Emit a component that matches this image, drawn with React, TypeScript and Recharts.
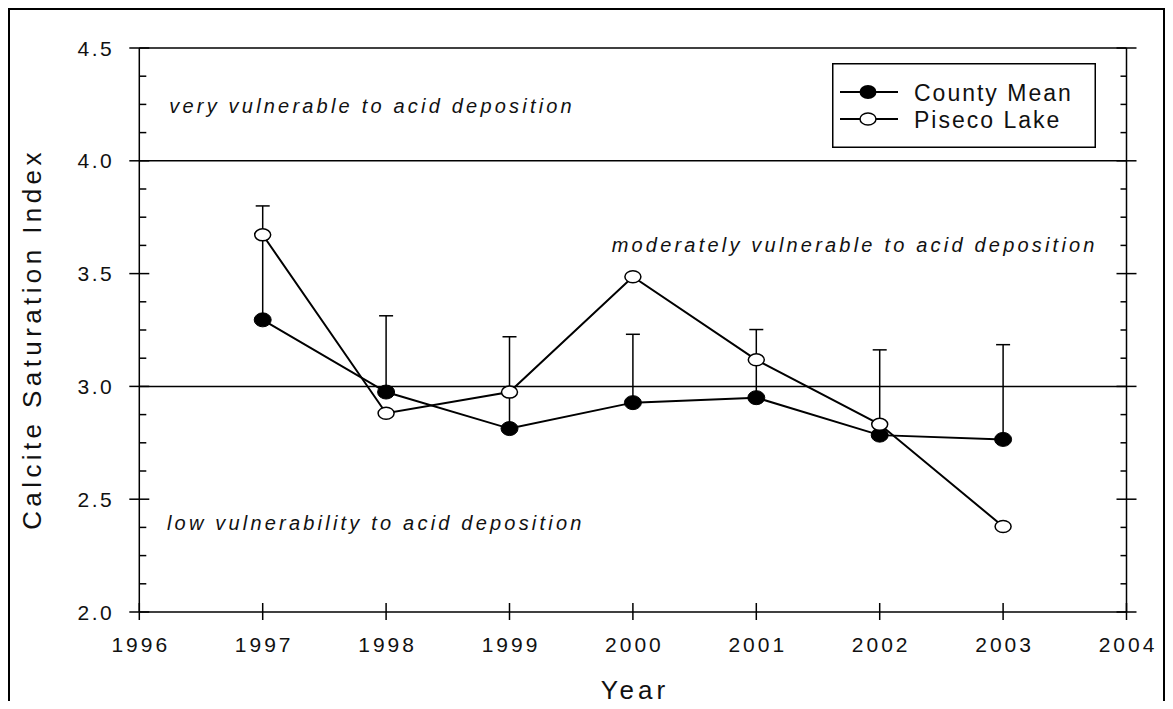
import React from "react";
import {
  LineChart,
  Line,
  XAxis,
  YAxis,
  ErrorBar,
  ReferenceLine,
  ReferenceDot,
  Legend,
} from "recharts";

const FONT = "'Liberation Sans', Arial, Helvetica, sans-serif";

const years = [1997, 1998, 1999, 2000, 2001, 2002, 2003];
const countyMean = [3.295, 2.975, 2.813, 2.928, 2.95, 2.784, 2.765];
const pisecoLake = [3.672, 2.881, 2.975, 3.486, 3.118, 2.832, 2.379];
const countyUpperError = [0.505, 0.338, 0.407, 0.303, 0.302, 0.378, 0.42];

const xTicks = [1996, 1997, 1998, 1999, 2000, 2001, 2002, 2003, 2004];
const yMajorTicks = [2.0, 2.5, 3.0, 3.5, 4.0, 4.5];
const yMinorTicks = [
  2.125, 2.25, 2.375, 2.625, 2.75, 2.875, 3.125, 3.25, 3.375, 3.625, 3.75,
  3.875, 4.125, 4.25, 4.375,
];
const thresholdLines = [3.0, 4.0];
const seriesNames = ["County Mean", "Piseco Lake"];
const zoneNotes = [
  "very vulnerable to acid deposition",
  "moderately vulnerable to acid deposition",
  "low vulnerability to acid deposition",
];

const rows = years.map((year, i) => ({
  year,
  county: countyMean[i],
  piseco: pisecoLake[i],
  err: [0, countyUpperError[i]],
}));
const yTicks = [...yMajorTicks, ...yMinorTicks].sort((a, b) => a - b);

const isMajor = (v: number) => yMajorTicks.some((m) => Math.abs(m - v) < 1e-6);

function LeftTick({ x, y, payload }: any) {
  const major = isMajor(payload.value);
  return (
    <g>
      <line
        x1={major ? x - 10 : x}
        x2={major ? x + 10 : x + 7}
        y1={y}
        y2={y}
        stroke="#000"
        strokeWidth={1.5}
      />
      {major && (
        <text
          x={x - 25}
          y={y}
          dy="0.36em"
          textAnchor="end"
          fontSize={21}
          letterSpacing={2.5}
          fill="#111"
          fontFamily={FONT}
        >
          {payload.value.toFixed(1)}
        </text>
      )}
    </g>
  );
}

function RightTick({ x, y, payload }: any) {
  const major = isMajor(payload.value);
  return (
    <line
      x1={major ? x - 10 : x - 6}
      x2={major ? x + 10 : x}
      y1={y}
      y2={y}
      stroke="#000"
      strokeWidth={1.5}
    />
  );
}

function BottomTick({ x, y, payload }: any) {
  return (
    <g>
      <line x1={x} x2={x} y1={y - 9} y2={y + 8} stroke="#000" strokeWidth={1.5} />
      <text
        x={x + 1.5}
        y={y + 40}
        textAnchor="middle"
        fontSize={21}
        letterSpacing={3}
        fill="#111"
        fontFamily={FONT}
      >
        {payload.value}
      </text>
    </g>
  );
}

function TopTick({ x, y }: any) {
  return <line x1={x} x2={x} y1={y - 9} y2={y + 8} stroke="#000" strokeWidth={1.5} />;
}

function FilledDot(p: any) {
  if (p.cx == null || p.cy == null) return <g key={`f-${p.index}`} />;
  return (
    <ellipse key={`f-${p.index}`} cx={p.cx} cy={p.cy} rx={8.5} ry={7} fill="#000" stroke="#000" strokeWidth={1} />
  );
}

function OpenDot(p: any) {
  if (p.cx == null || p.cy == null) return <g key={`o-${p.index}`} />;
  return (
    <ellipse key={`o-${p.index}`} cx={p.cx} cy={p.cy} rx={8} ry={6} fill="#fff" stroke="#000" strokeWidth={1.5} />
  );
}

function LegendBox() {
  const w = 264;
  const h = 85;
  return (
    <svg width={w} height={h} style={{ display: "block" }}>
      <rect x={0.75} y={0.75} width={w - 1.5} height={h - 1.5} fill="#fff" stroke="#000" strokeWidth={1.5} />
      {seriesNames.map((name, i) => {
        const cy = 29 + i * 27;
        return (
          <g key={name}>
            <line x1={8} x2={66} y1={cy} y2={cy} stroke="#000" strokeWidth={2} />
            {i === 0 ? (
              <ellipse cx={36} cy={cy} rx={8.5} ry={7} fill="#000" />
            ) : (
              <ellipse cx={36} cy={cy} rx={8} ry={6} fill="#fff" stroke="#000" strokeWidth={1.5} />
            )}
            <text x={82} y={cy + 8.5} fontSize={23} letterSpacing={2} fill="#111" fontFamily={FONT}>
              {name}
            </text>
          </g>
        );
      })}
    </svg>
  );
}

const noteLabel = (text: string) => (props: any) => {
  const vb = props.viewBox || {};
  return (
    <text
      x={vb.x}
      y={vb.y}
      fontSize={20}
      fontStyle="italic"
      letterSpacing={3.2}
      fill="#111"
      fontFamily={FONT}
    >
      {text}
    </text>
  );
};

function YTitle({ viewBox }: any) {
  const cx = 32;
  const cy = viewBox.y + viewBox.height / 2 + 9;
  return (
    <text
      x={cx}
      y={cy}
      transform={`rotate(-90, ${cx}, ${cy})`}
      textAnchor="middle"
      dominantBaseline="central"
      fontSize={26}
      letterSpacing={4.4}
      fill="#111"
      fontFamily={FONT}
    >
      Calcite Saturation Index
    </text>
  );
}

function XTitle({ viewBox }: any) {
  const cx = viewBox.x + viewBox.width / 2 + 2;
  return (
    <text x={cx} y={699} textAnchor="middle" fontSize={26} letterSpacing={4} fill="#111" fontFamily={FONT}>
      Year
    </text>
  );
}

export default function App() {
  return (
    <div style={{ position: "relative", width: 1173, height: 709, margin: -8, background: "#fff", overflow: "hidden" }}>
      <div
        style={{
          position: "absolute",
          left: 7,
          top: 7,
          width: 1153,
          height: 720,
          borderLeft: "3px solid #000",
          borderTop: "3px solid #000",
          borderRight: "3px solid #000",
        }}
      />
      <div style={{ position: "absolute", left: 0, top: 0 }}>
        <LineChart
          width={1173}
          height={709}
          data={rows}
          margin={{ top: 38, right: 36.5, left: 0, bottom: 0 }}
          style={{ fontFamily: FONT }}
        >
          <XAxis
            dataKey="year"
            type="number"
            domain={[1996, 2004]}
            ticks={xTicks}
            interval={0}
            allowDataOverflow
            height={97}
            tickSize={0}
            tickMargin={0}
            tickLine={false}
            tick={<BottomTick />}
            axisLine={{ stroke: "#000", strokeWidth: 1.5 }}
            label={<XTitle />}
          />
          <XAxis
            xAxisId="top"
            orientation="top"
            type="number"
            domain={[1996, 2004]}
            ticks={xTicks}
            interval={0}
            allowDataOverflow
            height={10}
            tickSize={0}
            tickMargin={0}
            tickLine={false}
            tick={<TopTick />}
            axisLine={{ stroke: "#000", strokeWidth: 1.5 }}
          />
          <YAxis
            type="number"
            domain={[2, 4.5]}
            ticks={yTicks}
            interval={0}
            allowDataOverflow
            width={139.3}
            tickSize={0}
            tickMargin={0}
            tickLine={false}
            tick={<LeftTick />}
            axisLine={{ stroke: "#000", strokeWidth: 1.5 }}
            label={<YTitle />}
          />
          <YAxis
            yAxisId="right"
            orientation="right"
            type="number"
            domain={[2, 4.5]}
            ticks={yTicks}
            interval={0}
            allowDataOverflow
            width={10}
            tickSize={0}
            tickMargin={0}
            tickLine={false}
            tick={<RightTick />}
            axisLine={{ stroke: "#000", strokeWidth: 1.5 }}
          />
          {thresholdLines.map((v) => (
            <ReferenceLine key={v} y={v} stroke="#000" strokeWidth={1.5} />
          ))}
          <ReferenceDot x={1996.243} y={4.21} r={0} fill="none" stroke="none" label={noteLabel(zoneNotes[0])} />
          <ReferenceDot x={1999.828} y={3.597} r={0} fill="none" stroke="none" label={noteLabel(zoneNotes[1])} />
          <ReferenceDot x={1996.224} y={2.363} r={0} fill="none" stroke="none" label={noteLabel(zoneNotes[2])} />
          <Line
            dataKey="county"
            name={seriesNames[0]}
            stroke="#000"
            strokeWidth={2}
            dot={FilledDot}
            activeDot={false}
            isAnimationActive={false}
          >
            <ErrorBar dataKey="err" direction="y" width={7} stroke="#000" strokeWidth={1.5} isAnimationActive={false} />
          </Line>
          <Line
            dataKey="piseco"
            name={seriesNames[1]}
            stroke="#000"
            strokeWidth={2}
            dot={OpenDot}
            activeDot={false}
            isAnimationActive={false}
          />
          <Legend
            layout="vertical"
            align="center"
            verticalAlign="middle"
            wrapperStyle={{ left: 832, top: 63, width: 264, height: 86 }}
            content={() => <LegendBox />}
          />
        </LineChart>
      </div>
    </div>
  );
}
